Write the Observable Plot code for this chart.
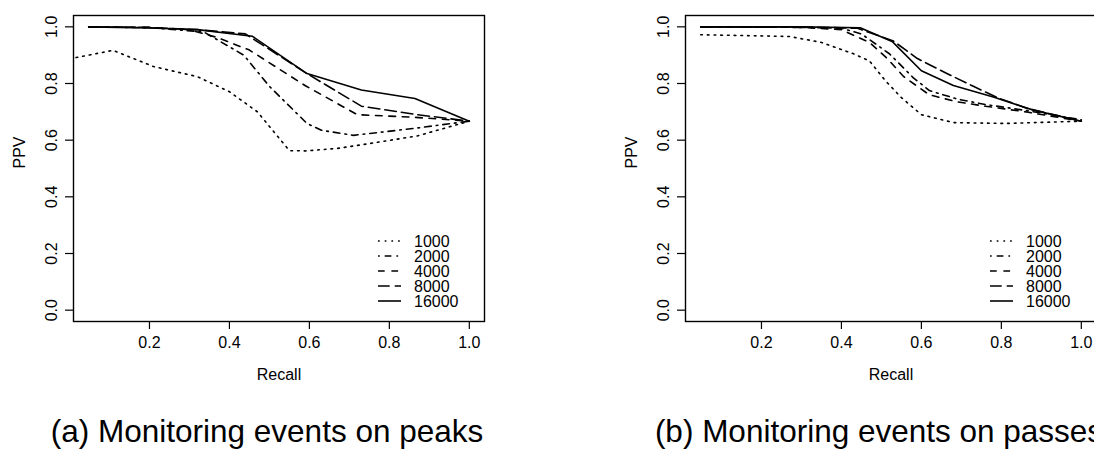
<!DOCTYPE html>
<html><head><meta charset="utf-8">
<script src="https://cdn.jsdelivr.net/npm/d3@7"></script>
<script src="https://cdn.jsdelivr.net/npm/@observablehq/plot@0.6"></script>
<style>
html,body{margin:0;padding:0;background:#fff;overflow:hidden;}
#wrap{position:relative;width:1094px;height:450px;overflow:hidden;background:#fff;font-family:"Liberation Sans",Arial,Helvetica,sans-serif;color:#000;}
.panel{position:absolute;top:0;}
.caption{position:absolute;top:416px;font-size:31.5px;line-height:31px;white-space:nowrap;transform:translateX(-50%);}
.legend{position:absolute;top:0;left:0;}
</style></head><body><div id="wrap"></div>
<script>
// ---- data ----
const seriesNames = ["1000", "2000", "4000", "8000", "16000"];
const xTicks = [0.2, 0.4, 0.6, 0.8, 1.0];
const yTicks = [0.0, 0.2, 0.4, 0.6, 0.8, 1.0];
const captions = ["(a) Monitoring events on peaks", "(b) Monitoring events on passes"];

// (a) peaks
const peaksRecall1000 = [0.0, 0.109, 0.21, 0.32, 0.40, 0.47, 0.55, 0.59, 0.67, 0.75, 0.87, 1.0];
const peaksPPV1000    = [0.887, 0.917, 0.86, 0.824, 0.771, 0.70, 0.563, 0.562, 0.571, 0.588, 0.615, 0.667];
const peaksRecall2000 = [0.048, 0.2, 0.336, 0.436, 0.5, 0.594, 0.63, 0.71, 0.87, 1.0];
const peaksPPV2000    = [1.0, 0.997, 0.982, 0.90, 0.79, 0.659, 0.635, 0.617, 0.643, 0.667];
const peaksRecall4000 = [0.048, 0.2, 0.3, 0.37, 0.45, 0.59, 0.72, 0.86, 1.0];
const peaksPPV4000    = [1.0, 0.998, 0.99, 0.962, 0.918, 0.792, 0.69, 0.681, 0.667];
const peaksRecall8000 = [0.048, 0.2, 0.32, 0.44, 0.594, 0.73, 0.87, 1.0];
const peaksPPV8000    = [1.0, 0.998, 0.99, 0.975, 0.835, 0.72, 0.69, 0.667];
const peaksRecall16000 = [0.048, 0.2, 0.32, 0.457, 0.594, 0.73, 0.864, 1.0];
const peaksPPV16000    = [1.0, 0.996, 0.99, 0.967, 0.835, 0.777, 0.747, 0.667];

// (b) passes
const passesRecall1000 = [0.048, 0.27, 0.35, 0.43, 0.47, 0.51, 0.55, 0.6, 0.68, 0.81, 1.0];
const passesPPV1000    = [0.972, 0.966, 0.945, 0.905, 0.88, 0.81, 0.75, 0.69, 0.662, 0.659, 0.667];
const passesRecall2000 = [0.048, 0.3, 0.40, 0.45, 0.52, 0.58, 0.62, 0.69, 0.76, 0.86, 1.0];
const passesPPV2000    = [1.0, 0.998, 0.995, 0.975, 0.905, 0.82, 0.775, 0.745, 0.726, 0.705, 0.672];
const passesRecall4000 = [0.048, 0.3, 0.40, 0.47, 0.515, 0.556, 0.62, 0.69, 0.76, 0.86, 1.0];
const passesPPV4000    = [1.0, 0.998, 0.99, 0.945, 0.888, 0.824, 0.76, 0.735, 0.72, 0.70, 0.667];
const passesRecall8000 = [0.048, 0.3, 0.44, 0.53, 0.59, 0.66, 0.73, 0.79, 0.865, 1.0];
const passesPPV8000    = [1.0, 1.0, 0.995, 0.95, 0.888, 0.838, 0.79, 0.75, 0.712, 0.667];
const passesRecall16000 = [0.048, 0.3, 0.447, 0.528, 0.60, 0.68, 0.78, 0.88, 1.0];
const passesPPV16000    = [1.0, 1.0, 0.997, 0.947, 0.845, 0.793, 0.752, 0.706, 0.667];

// ---- styling ----
const dashes = ["1.7 5", "1.7 5 6.7 5", "6.7 6.7", "11.7 5", null];
const FONT = '"Liberation Sans", Arial, Helvetica, sans-serif';
const LW = 1.6;

const panels = [
  {offset: 0, recall: [peaksRecall1000, peaksRecall2000, peaksRecall4000, peaksRecall8000, peaksRecall16000],
   ppv: [peaksPPV1000, peaksPPV2000, peaksPPV4000, peaksPPV8000, peaksPPV16000], caption: captions[0], cx: 267},
  {offset: 612, recall: [passesRecall1000, passesRecall2000, passesRecall4000, passesRecall8000, passesRecall16000],
   ppv: [passesPPV1000, passesPPV2000, passesPPV4000, passesPPV8000, passesPPV16000], caption: captions[1], cx: 879}
];

const wrap = document.getElementById("wrap");

for (const p of panels) {
  const marks = [];
  seriesNames.forEach((name, i) => {
    const rows = p.recall[i].map((r, j) => ({series: name, recall: r, ppv: p.ppv[i][j]}));
    marks.push(Plot.line(rows, {x: "recall", y: "ppv", stroke: "black", strokeWidth: LW,
      strokeDasharray: dashes[i] || undefined, clip: true}));
  });
  marks.push(Plot.frame({stroke: "black", strokeWidth: 1.4}));
  marks.push(Plot.axisX({ticks: xTicks, tickSize: 8, tickPadding: 7, strokeWidth: 1.2, tickFormat: d => d.toFixed(1), label: null}));
  marks.push(Plot.axisY({ticks: yTicks, tickSize: 8, tickPadding: 14, strokeWidth: 1.2, tickRotate: -90, lineAnchor: "middle",
    textAnchor: "middle", tickFormat: d => d.toFixed(1), label: null}));
  marks.push(Plot.text(["Recall"], {frameAnchor: "bottom", dy: 53, text: d => d, lineAnchor: "middle"}));
  marks.push(Plot.text(["PPV"], {frameAnchor: "left", dx: -54, rotate: -90, text: d => d, lineAnchor: "middle"}));

  const chart = Plot.plot({
    width: 547, height: 390,
    marginLeft: 73, marginRight: 63, marginTop: 15, marginBottom: 69,
    x: {domain: [0.010, 1.038]},
    y: {domain: [-0.04, 1.04]},
    style: {fontFamily: FONT, fontSize: "16px", color: "black", background: "white", overflow: "visible"},
    marks
  });
  chart.classList.add("panel");
  chart.style.left = p.offset + "px";
  wrap.appendChild(chart);

  const cap = document.createElement("div");
  cap.className = "caption";
  cap.style.left = p.cx + "px";
  cap.textContent = p.caption;
  wrap.appendChild(cap);
}

// legends (overlay, one per panel)
const leg = d3.select(wrap).append("svg").attr("class", "legend")
  .attr("width", 1094).attr("height", 450)
  .style("font-family", FONT).style("font-size", "16px");
for (const p of panels) {
  const g = leg.append("g").attr("transform", `translate(${p.offset},0)`);
  seriesNames.forEach((name, i) => {
    const y = 241 + i * 15;
    g.append("line").attr("x1", 378).attr("x2", 401).attr("y1", y).attr("y2", y)
      .attr("stroke", "black").attr("stroke-width", LW)
      .attr("stroke-dasharray", dashes[i]);
    g.append("text").attr("x", 414).attr("y", y).attr("dy", "0.35em").text(name);
  });
}
</script></body></html>
